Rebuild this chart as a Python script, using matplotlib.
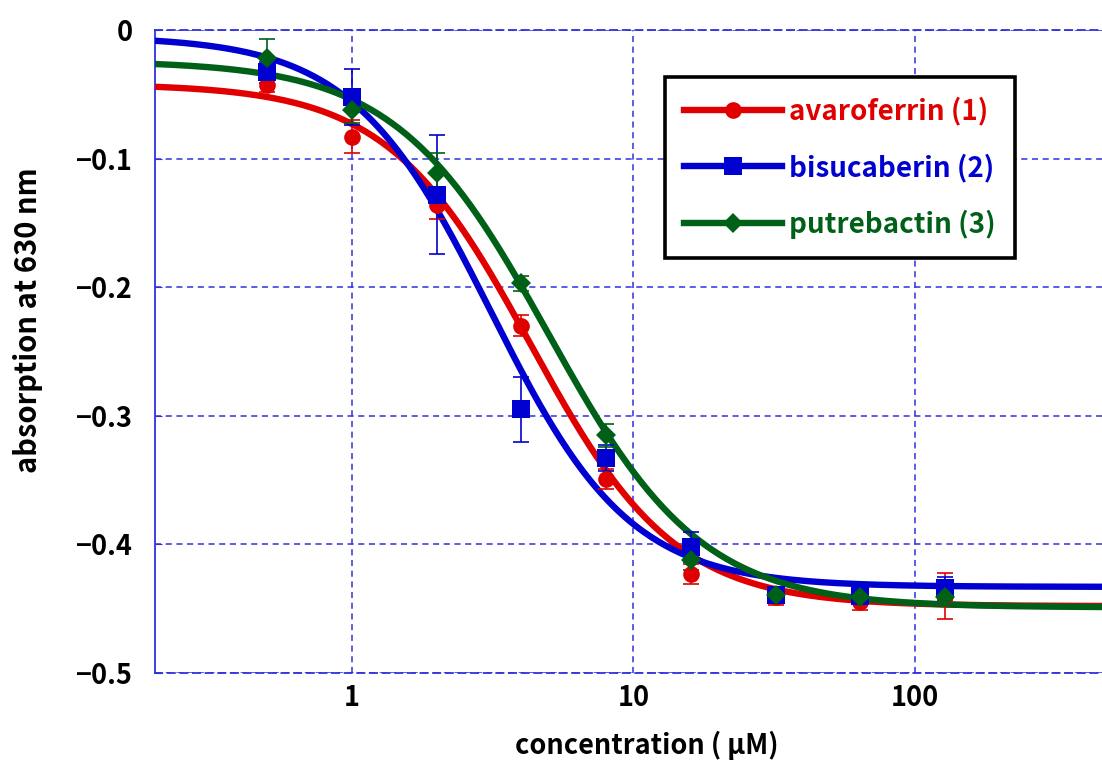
import numpy as np
import matplotlib
matplotlib.use("Agg")
import matplotlib.pyplot as plt
from matplotlib.lines import Line2D

plt.rcParams['font.family'] = ['Noto Sans CJK JP', 'DejaVu Sans']
plt.rcParams['font.weight'] = 'bold'

# ---- data ----
conc = [0.5, 1, 2, 4, 8, 16, 32, 64, 128]
names = ["avaroferrin (1)", "bisucaberin (2)", "putrebactin (3)"]
avaro = [-0.043, -0.083, -0.136, -0.230, -0.349, -0.423, -0.441, -0.445, -0.440]
bisuc = [-0.033, -0.052, -0.128, -0.295, -0.333, -0.402, -0.439, -0.440, -0.434]
putre = [-0.022, -0.062, -0.111, -0.197, -0.315, -0.412, -0.439, -0.441, -0.441]
avaro_err = [0.005, 0.013, 0.011, 0.008, 0.008, 0.008, 0.006, 0.006, 0.018]
bisuc_err = [0.008, 0.022, 0.046, 0.025, 0.010, 0.012, 0.006, 0.006, 0.009]
putre_err = [0.015, 0.010, 0.015, 0.006, 0.009, 0.008, 0.005, 0.005, 0.005]
# fitted 4-parameter logistic curves: top, bottom, EC50, Hill slope
avaro_fit = [-0.042, -0.448, 4.33, 1.7]
bisuc_fit = [-0.005, -0.433, 3.12, 1.76]
putre_fit = [-0.024, -0.449, 5.0, 1.6]

colors = ['#e00000', '#0000d0', '#006018']
markers = ['o', 's', 'D']
msizes = [12, 13, 10]

W, H = 1102, 760
fig = plt.figure(figsize=(W / 100, H / 100), dpi=100)
ax = fig.add_axes([155 / W, (H - 673) / H, (W - 155) / W, (673 - 30) / H])
ax.set_xscale('log')
ax.set_xlim(0.2, 462)
ax.set_ylim(-0.5, 0)

gridc = '#3030e0'
ax.grid(True, which='major', color=gridc, linestyle=(0, (4, 3)), linewidth=1.1)
ax.grid(False, which='minor')
ax.set_axisbelow(True)

xs = np.logspace(np.log10(0.2), np.log10(462), 400)
series = [(avaro, avaro_err, avaro_fit), (bisuc, bisuc_err, bisuc_fit), (putre, putre_err, putre_fit)]

# curves (blue, red, green stacking)
for i in [1, 0, 2]:
    top, bot, ec50, h = series[i][2]
    ys = bot + (top - bot) / (1 + (xs / ec50) ** h)
    ax.plot(xs, ys, color=colors[i], lw=4.6, zorder=3 + i * 0.1, solid_capstyle='butt')

for i, (vals, err, fit) in enumerate(series):
    ax.errorbar(conc, vals, yerr=err, fmt='none', ecolor=colors[i], elinewidth=1.2,
                capsize=6, capthick=1.2, zorder=4 + i * 0.1)
    ax.plot(conc, vals, linestyle='none', marker=markers[i], ms=msizes[i],
            color=colors[i], markeredgewidth=0, zorder=5 + i * 0.1)

ax.set_yticks([0, -0.1, -0.2, -0.3, -0.4, -0.5])
ax.set_yticklabels(['0', '\u22120.1', '\u22120.2', '\u22120.3', '\u22120.4', '\u22120.5'])
ax.set_xticks([1, 10, 100])
ax.set_xticklabels(['1', '10', '100'])
ax.xaxis.set_minor_locator(matplotlib.ticker.NullLocator())
ax.tick_params(axis='y', direction='in', length=5, color=gridc, labelsize=19.5, pad=16)
ax.tick_params(axis='x', direction='in', length=0, labelsize=19.5, pad=8)
for lab in ax.get_xticklabels() + ax.get_yticklabels():
    lab.set_fontweight('bold')

ax.spines['left'].set_color(gridc)
ax.spines['left'].set_linewidth(1.3)
ax.spines['bottom'].set_color(gridc)
ax.spines['bottom'].set_linestyle((0, (4, 3)))
ax.spines['bottom'].set_linewidth(1.3)
ax.spines['top'].set_color(gridc)
ax.spines['top'].set_linestyle((0, (4, 3)))
ax.spines['top'].set_linewidth(1.3)
ax.spines['right'].set_visible(False)

ax.set_xlabel('concentration ( \u03bcM)', fontsize=19.5, fontweight='bold')
ax.set_ylabel('absorption at 630 nm', fontsize=21, fontweight='bold')
ax.xaxis.set_label_coords((647 - 155) / (W - 155), -(745 - 673) / (673 - 30))
ax.xaxis.label.set_va('center')
ax.yaxis.set_label_coords(-(155 - 28) / (W - 155), (673 - 320) / (673 - 30))
ax.yaxis.label.set_va('center')

handles = [Line2D([], [], color=colors[i], lw=4.6, marker=markers[i], ms=msizes[i],
                  markeredgewidth=0) for i in range(3)]
leg = ax.legend(handles, names, loc='upper left', bbox_to_anchor=(665 / W, 1 - 77 / H),
                bbox_transform=fig.transFigure, fontsize=20, handlelength=3.5,
                fancybox=False, framealpha=1, edgecolor='black', borderpad=0.7,
                labelspacing=1.0, handletextpad=0.25, borderaxespad=0)
leg.get_frame().set_linewidth(2.6)
for t, c in zip(leg.get_texts(), colors):
    t.set_color(c)
    t.set_fontweight('bold')

fig.savefig('out.png', dpi=100)
